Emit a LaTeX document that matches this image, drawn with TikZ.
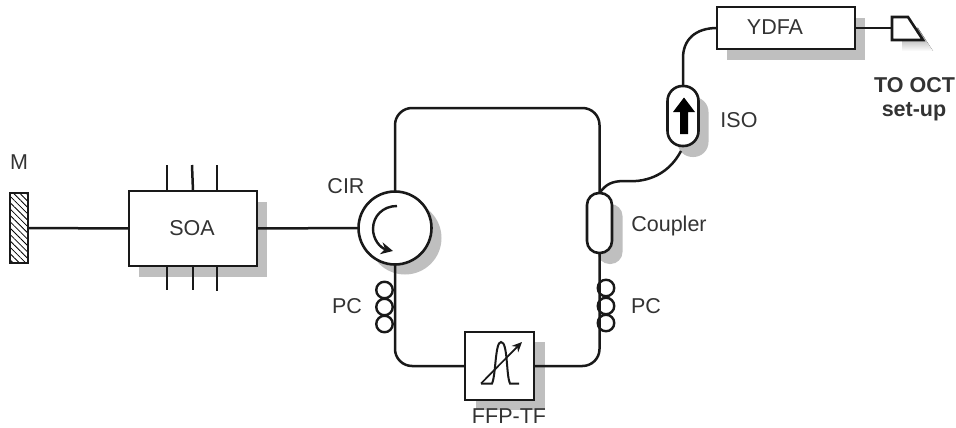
\documentclass[tikz,border=0pt]{standalone}
\usepackage{fontspec}
\setmainfont{Liberation Sans}
\usetikzlibrary{arrows.meta,patterns.meta}
\definecolor{shade}{HTML}{BFBFBF}
\tikzset{
  x=1pt,y=-1pt,
  fiber/.style={line width=2.5pt,draw=black!90},
  box/.style={draw=black!90,line width=2.6pt,fill=white,inner sep=0pt,outer sep=0pt,rectangle},
  shadowbox/.style={fill=shade,draw=none,inner sep=0pt,outer sep=0pt,rectangle},
  label/.style={font=\fontsize{21.5}{24}\selectfont,text=black!80,inner sep=0pt},
  coil/.style={circle,draw=black!90,line width=2.4pt,fill=none,minimum size=16.5pt,inner sep=0pt,outer sep=0pt},
}
\begin{document}
\begin{tikzpicture}
\useasboundingbox (0,0) rectangle (956,428);
% shadows
\node[shadowbox,minimum width=128pt,minimum height=75pt] at (203,239.5) {};
\node[shadowbox,minimum width=138pt,minimum height=42pt] at (796,39) {};
\node[shadowbox,minimum width=69pt,minimum height=68pt] at (510.5,376) {};
\node[shadowbox,circle,minimum size=73pt] at (405,238) {};
\node[shadowbox,minimum width=25pt,minimum height=60pt,rounded corners=12pt] at (610,234) {};
\node[shadowbox,minimum width=31pt,minimum height=60pt,rounded corners=15pt] at (693,127) {};
\fill[shade] (902,28) -- (918,28) -- (933,51) -- (902,51) -- cycle;
% fixed points
\coordinate (tl) at (395,108);
\coordinate (tr) at (599.5,108);
\coordinate (bl) at (395,366);
\coordinate (br) at (599.5,366);
% components
\node[box,minimum width=18pt,minimum height=70pt,pattern={Lines[angle=-45,distance=4.5pt,line width=.8pt]}] (M) at (19,228) {};
\node[box,minimum width=128pt,minimum height=75pt] (SOA) at (193,228.5) {};
\node[label] at (192,228) {SOA};
\node[box,circle,minimum size=73pt] (CIR) at (395,228) {};
\node[box,minimum width=25pt,minimum height=60pt,rounded corners=12pt] (CPL) at (599.5,223) {};
\node[box,minimum width=69pt,minimum height=68pt] (FFP) at (499.5,366) {};
\node[box,minimum width=31pt,minimum height=60pt,rounded corners=15pt] (ISO) at (683,116) {};
\node[box,minimum width=138pt,minimum height=42pt] (YDFA) at (786,28) {};
\node[label] at (775,27.5) {YDFA};
\node[draw=none,inner sep=0pt,outer sep=0pt] (OUT) at (892,28) {};
% fibers
\draw[fiber] (M.east) -- (SOA.west);
\draw[fiber] (SOA.east) -- (CIR.west);
\draw[fiber,rounded corners=17pt] (CIR.north) -- (tl) -- (tr) -- (CPL.north);
\draw[fiber,rounded corners=17pt] (CIR.south) -- (bl) -- (FFP.west);
\draw[fiber,rounded corners=17pt] (CPL.south) -- (br) -- (FFP.east);
\draw[fiber] (CPL.north) .. controls (606,184) and (612,181) .. (625,181) .. controls (650,183) and (670,172) .. (681,151);
\draw[fiber] (ISO.north) -- (683,58) .. controls (683,40) and (695,28) .. (YDFA.west);
\draw[fiber] (YDFA.east) -- (OUT);
% SOA pins
\foreach \n/\x/\xb in {a/167/167,b/192/193,c/217/217}{
  \coordinate (t\n) at (\x,165);
  \coordinate (s\n) at (\xb,191);
  \draw[fiber] (t\n) -- (s\n);
}
\foreach \n/\x/\yy in {d/167/290,e/193/290,f/217/291}{
  \coordinate (t\n) at (\x,266);
  \coordinate (s\n) at (\x,\yy);
  \draw[fiber] (t\n) -- (s\n);
}
% polarization controllers
\foreach \n/\y in {1/290,2/307,3/324}{\node[coil] (pl\n) at (384.5,\y) {};}
\foreach \n/\y in {1/288,2/306,3/323}{\node[coil] (pr\n) at (606,\y) {};}
% output collimator
\draw[box,line join=miter] (892,17) -- (908,17) -- (923,40) -- (892,40) -- cycle;
% circulator arrow
\draw[line width=2.4pt,draw=black!90,-{Stealth[length=12pt,width=12pt]}] (397,206) .. controls (383,206) and (373,216) .. (373,229) .. controls (373,239) and (380,248) .. (393,251);
% isolator arrow
\fill[black] (684,97.5) -- (695,112) -- (688,112) -- (688,134) -- (680,134) -- (680,112) -- (673,112) -- cycle;
% filter glyph
\draw[line width=2pt,draw=black!90] (481,383.5) -- (492,383.5) .. controls (496,375) and (495,342) .. (501,342) .. controls (508,342) and (506,375) .. (510,383.5) -- (519,383.5);
\draw[line width=1.7pt,draw=black!90,-{Stealth[length=10pt,width=9pt]}] (481,383.5) -- (522,342);
% labels
\node[label] at (19,162) {M};
\node[label] at (346,186) {CIR};
\node[label] at (347,306) {PC};
\node[label] at (646,306) {PC};
\node[label] at (669,226) {Coupler};
\node[label] at (739,120) {ISO};
\node[label] at (509,416) {FFP-TF};
\node[label,font=\fontsize{21.5}{24}\selectfont\bfseries] at (914.5,85) {TO OCT};
\node[label,font=\fontsize{21.5}{24}\selectfont\bfseries] at (914,112) {set-up};
\end{tikzpicture}
\end{document}
